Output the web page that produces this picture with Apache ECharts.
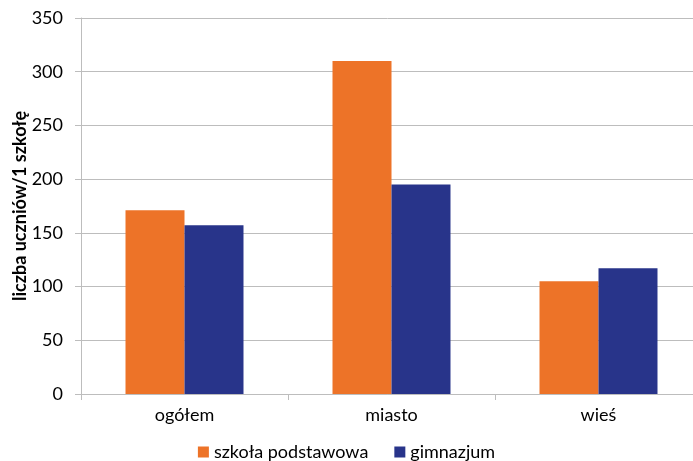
<!DOCTYPE html>
<html><head><meta charset="utf-8">
<script src="https://cdn.jsdelivr.net/npm/echarts@6/dist/echarts.min.js"></script>
<style>html,body{margin:0;padding:0;background:#fff}#c{width:693px;height:461px}</style>
</head><body><div id="c"></div>
<script>
const categories = ['ogółem', 'miasto', 'wieś'];
const szkolaPodstawowa = [171, 310, 105];
const gimnazjum = [157, 195, 117];
const seriesNames = ['szkoła podstawowa', 'gimnazjum'];
const yAxisTitle = 'liczba uczniów/1 szkołę';

const chart = echarts.init(document.getElementById('c'));
const font = 'Lato';
chart.setOption({
  animation: false,
  textStyle: { fontFamily: font },
  grid: { left: 81, width: 621, top: 18, height: 376, containLabel: false, outerBoundsMode: 'none' },
  legend: {
    top: 443, left: 'center', padding: 0,
    itemWidth: 11, itemHeight: 11, itemGap: 26,
    icon: 'rect',
    textStyle: { fontFamily: font, fontSize: 18, color: '#000' },
    data: seriesNames
  },
  xAxis: {
    type: 'category', data: categories,
    axisLine: { lineStyle: { color: '#BDBDBD' } },
    axisTick: { show: true, length: 6, lineStyle: { color: '#BDBDBD' } },
    axisLabel: { fontFamily: font, fontSize: 18, color: '#000', margin: 12 }
  },
  yAxis: {
    type: 'value', min: 0, max: 350, interval: 50,
    name: yAxisTitle, nameLocation: 'middle', nameGap: 52, nameMoveOverlap: false,
    nameTextStyle: { fontFamily: font, fontSize: 18, fontWeight: 'bold', color: '#000' },
    axisLine: { show: true, lineStyle: { color: '#BDBDBD' } },
    axisTick: { show: true, length: 6, lineStyle: { color: '#BDBDBD' } },
    axisLabel: { fontFamily: font, fontSize: 18, color: '#000', margin: 18 },
    splitLine: { lineStyle: { color: '#BDBDBD' } }
  },
  series: [
    { name: seriesNames[0], type: 'bar', data: szkolaPodstawowa, barGap: '0%', barCategoryGap: '43%',
      itemStyle: { color: '#ED7328' } },
    { name: seriesNames[1], type: 'bar', data: gimnazjum, barGap: '0%', barCategoryGap: '43%',
      itemStyle: { color: '#28348A' } }
  ]
});
</script></body></html>
